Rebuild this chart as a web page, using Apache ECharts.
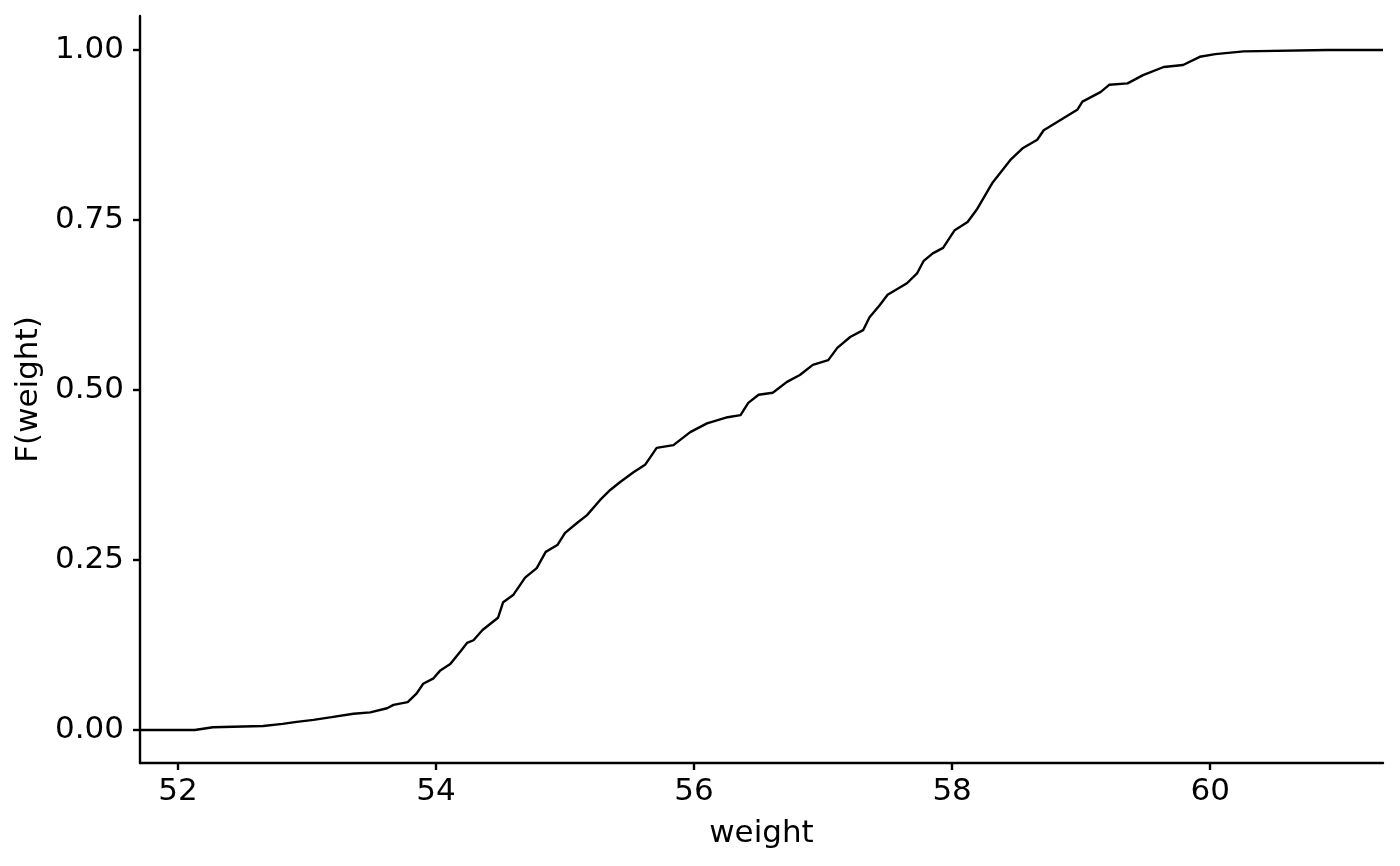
<!DOCTYPE html>
<html>
<head>
<meta charset="utf-8">
<script src="https://cdn.jsdelivr.net/npm/echarts@6/dist/echarts.min.js"></script>
<style>
html,body{margin:0;padding:0;background:#fff;}
#chart{width:1400px;height:866px;}
</style>
</head>
<body>
<div id="chart"></div>
<script>
// ECDF of weight
const weightVals = [51.705, 52.13, 52.27, 52.66, 52.81, 52.92, 53.05, 53.19, 53.36, 53.49, 53.62, 53.67, 53.78, 53.85, 53.90, 53.98, 54.03, 54.11, 54.19, 54.24, 54.29, 54.36, 54.48, 54.52, 54.60, 54.69, 54.78, 54.85, 54.94, 55.00, 55.09, 55.17, 55.27, 55.35, 55.43, 55.53, 55.62, 55.71, 55.84, 55.97, 56.10, 56.26, 56.36, 56.42, 56.50, 56.61, 56.72, 56.82, 56.92, 57.04, 57.11, 57.21, 57.31, 57.36, 57.44, 57.50, 57.65, 57.73, 57.78, 57.85, 57.93, 58.02, 58.12, 58.19, 58.31, 58.45, 58.55, 58.66, 58.71, 58.84, 58.97, 59.01, 59.15, 59.22, 59.36, 59.48, 59.64, 59.79, 59.92, 60.04, 60.26, 60.91, 61.34];
const cdfVals = [0.000, 0.000, 0.004, 0.006, 0.009, 0.012, 0.015, 0.019, 0.024, 0.026, 0.032, 0.037, 0.041, 0.054, 0.068, 0.076, 0.087, 0.097, 0.116, 0.128, 0.132, 0.147, 0.165, 0.188, 0.199, 0.224, 0.238, 0.262, 0.272, 0.290, 0.304, 0.316, 0.338, 0.353, 0.365, 0.379, 0.390, 0.415, 0.419, 0.438, 0.451, 0.460, 0.463, 0.481, 0.493, 0.496, 0.512, 0.522, 0.537, 0.544, 0.562, 0.578, 0.588, 0.607, 0.625, 0.640, 0.657, 0.672, 0.690, 0.701, 0.709, 0.735, 0.747, 0.765, 0.804, 0.838, 0.856, 0.868, 0.882, 0.897, 0.912, 0.924, 0.938, 0.949, 0.951, 0.963, 0.975, 0.978, 0.990, 0.994, 0.998, 1.000, 1.000];
const xTicks = [52, 54, 56, 58, 60];
const yTicks = [0, 0.25, 0.5, 0.75, 1.0];
const yTickLabels = ['0.00', '0.25', '0.50', '0.75', '1.00'];
const xName = 'weight';
const yName = 'F(weight)';

const points = weightVals.map((w, i) => [w, cdfVals[i]]);
const FONT = 'DejaVu Sans';
const chart = echarts.init(document.getElementById('chart'), null, {renderer: 'canvas'});
chart.setOption({
  animation: false,
  backgroundColor: '#ffffff',
  grid: {left: 140, right: 17, top: 16, bottom: 103, containLabel: false},
  xAxis: {
    type: 'value',
    min: 51.705, max: 61.34,
    name: xName, nameLocation: 'middle', nameGap: 55,
    nameTextStyle: {fontFamily: FONT, fontSize: 31, color: '#000'},
    axisLine: {show: true, onZero: false, lineStyle: {color: '#000', width: 2.4}},
    axisTick: {show: true, length: 7, lineStyle: {color: '#000', width: 2.4}, customValues: xTicks},
    axisLabel: {fontFamily: FONT, fontSize: 31, color: '#000', margin: 13, customValues: xTicks},
    splitLine: {show: false}
  },
  yAxis: {
    type: 'value',
    min: -0.0485, max: 1.05,
    name: yName, nameLocation: 'middle', nameGap: 95,
    nameTextStyle: {fontFamily: FONT, fontSize: 31, color: '#000'},
    axisLine: {show: true, onZero: false, lineStyle: {color: '#000', width: 2.4}},
    axisTick: {show: true, length: 7, lineStyle: {color: '#000', width: 2.4}, customValues: yTicks},
    axisLabel: {fontFamily: FONT, fontSize: 31, color: '#000', margin: 16, customValues: yTicks,
      formatter: v => { const i = yTicks.findIndex(t => Math.abs(t - v) < 1e-9); return i >= 0 ? yTickLabels[i] : ''; }},
    splitLine: {show: false}
  },
  series: [{
    type: 'line',
    data: points,
    showSymbol: false,
    smooth: false,
    lineStyle: {color: '#000', width: 2.4},
    clip: true
  }]
});
</script>
</body>
</html>
